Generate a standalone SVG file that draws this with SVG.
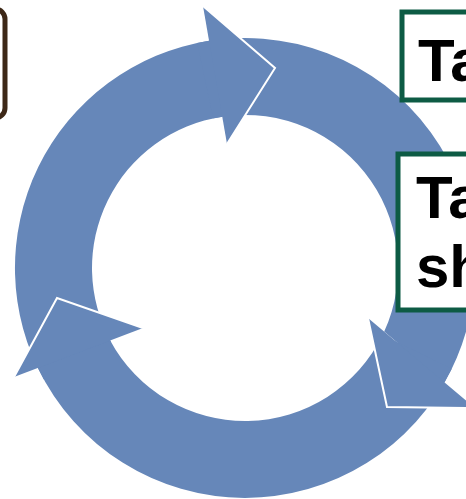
<svg xmlns="http://www.w3.org/2000/svg" width="466" height="499" viewBox="0 0 466 499">
<style>
.arr{fill:#6687b9;stroke:none}
.edge{fill:none;stroke:#ffffff;stroke-width:2;stroke-linejoin:miter}
.box{fill:#ffffff;stroke-width:5}
.lbl{font-family:"Liberation Sans",Arial,sans-serif;font-weight:bold;font-size:60px;fill:#000000}
</style>
<rect width="466" height="499" fill="#ffffff"/>
<g id="cycle">
<g id="arrow1"><path class="arr" d="M 43.8 379.5 A 230 230 0 0 1 209.1 40.8 L 222.3 116.7 A 153 153 0 0 0 111.2 342.2 Z"/></g>
<g id="arrow2"><path class="arr" d="M 197.2 43 A 230 230 0 0 1 444.5 382.4 L 384.2 331.6 A 153 153 0 0 0 213.2 118.3 Z"/></g>
<g id="arrow3"><path class="arr" d="M 451.7 368.8 A 230 230 0 0 1 37.9 367.9 L 110.2 340.4 A 153 153 0 0 0 382.5 335.1 Z"/></g>
<g id="head1"><path class="arr" d="M 203 6 L 275 68 L 227 144 Z"/><path class="edge" d="M 203 6 L 275 68 L 227 144"/></g>
<g id="head2"><path class="arr" d="M 475 408 L 387 407 L 368 318 Z"/><path class="edge" d="M 475 408 L 387 407 L 368 318"/></g>
<g id="head3"><path class="arr" d="M 14 377 L 57 298 L 143 328 Z"/><path class="edge" d="M 14 377 L 57 298 L 143 328"/></g>
</g>
<g id="box-left"><rect class="box" x="-100" y="9" width="105" height="109" rx="10" stroke="#3d2817" stroke-width="4"/></g>
<g id="box-top"><rect class="box" x="402" y="12" width="100" height="88" stroke="#0d5b44"/><text class="lbl" x="418" y="81">Ta</text></g>
<g id="box-mid"><rect class="box" x="398" y="154" width="100" height="156" stroke="#0d5b44"/><text class="lbl" x="416" y="218">Ta</text><text class="lbl" x="416" y="287">sh</text></g>
</svg>
